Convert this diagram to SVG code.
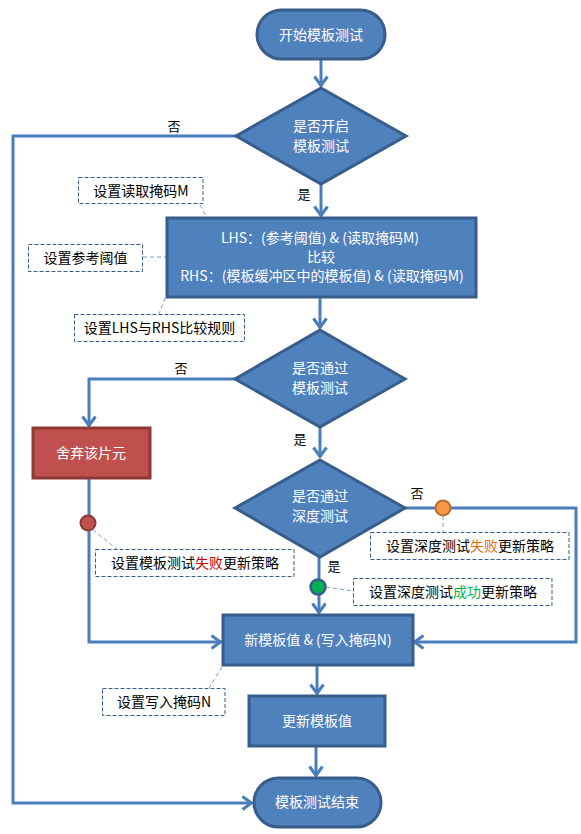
<svg xmlns="http://www.w3.org/2000/svg" width="581" height="834" viewBox="0 0 581 834">
<defs>
<marker id="arr" viewBox="0 0 12 16" refX="11" refY="8" markerWidth="12" markerHeight="16" markerUnits="userSpaceOnUse" orient="auto">
<path d="M1.5,1.5 L10.5,8 L1.5,14.5" fill="none" stroke="#4a7ebb" stroke-width="3" stroke-linejoin="miter"/>
</marker>
</defs>
<style>
text{font-family:"Noto Sans CJK SC","Liberation Sans",sans-serif;text-anchor:middle;}
.nt{fill:#ffffff;font-size:14px;}
.lb{fill:#000000;font-size:13px;}
.ntxt{fill:#000000;font-size:14px;}
.node{fill:#4f81bd;stroke:#385d8a;stroke-width:3;}
.red{fill:#c0504d;stroke:#8c3836;stroke-width:3;}
.note{fill:#ffffff;stroke:#385d8a;stroke-width:1;stroke-dasharray:4 2;}
.con{fill:none;stroke:#4a7ebb;stroke-width:3;}
.arr{marker-end:url(#arr);}
.call{fill:none;stroke:#7ba0d4;stroke-width:1;stroke-dasharray:4 3;}
</style>
<rect width="581" height="834" fill="#ffffff"/>
<g id="connectors">
<path class="con arr" d="M321,59 L321,86"/>
<path class="con arr" d="M236,136 L13,136 L13,803 L252,803"/>
<path class="con arr" d="M321,184 L321,216"/>
<path class="con arr" d="M320,297 L320,328"/>
<path class="con arr" d="M235,379 L89,379 L89,426"/>
<path class="con arr" d="M89,478 L89,642 L221,642"/>
<path class="con arr" d="M320,427 L320,457"/>
<path class="con arr" d="M405,508 L576,508 L576,642 L414,642"/>
<path class="con arr" d="M319,557 L319,613"/>
<path class="con arr" d="M317,665 L317,694"/>
<path class="con arr" d="M316,746 L316,776"/>
<text class="lb" x="174" y="131">否</text>
<text class="lb" x="304" y="199">是</text>
<text class="lb" x="181" y="373">否</text>
<text class="lb" x="300" y="444">是</text>
<text class="lb" x="417" y="498">否</text>
<text class="lb" x="334" y="571">是</text>
<path class="call" d="M200,205 L207,218"/>
<path class="call" d="M143,257 L193,257"/>
<path class="call" d="M165,298 L159,314"/>
<path class="call" d="M93,530 L117,549"/>
<path class="call" d="M443,516 L443,532"/>
<path class="call" d="M326,587 L353,591"/>
<path class="call" d="M222,667 L209,688"/>
</g>
<g id="start">
<rect class="node" x="257" y="10" width="128" height="49" rx="24.5"/>
<text class="nt" x="321" y="40">开始模板测试</text>
</g>
<g id="decision1">
<polygon class="node" points="321,88 406,136 321,184 236,136"/>
<text class="nt" x="321" y="131">是否开启</text>
<text class="nt" x="321" y="151">模板测试</text>
</g>
<g id="compare">
<rect class="node" x="167" y="218" width="309" height="79"/>
<text class="nt" x="320" y="243">LHS：(参考阈值) &amp; (读取掩码M)</text>
<text class="nt" x="321" y="262">比较</text>
<text class="nt" x="322" y="281">RHS：(模板缓冲区中的模板值) &amp; (读取掩码M)</text>
</g>
<g id="decision2">
<polygon class="node" points="320,330 405,379 320,427 235,379"/>
<text class="nt" x="320" y="373">是否通过</text>
<text class="nt" x="320" y="393">模板测试</text>
</g>
<g id="discard">
<rect class="red" x="33" y="428" width="117" height="50"/>
<text class="nt" x="91" y="458">舍弃该片元</text>
</g>
<g id="decision3">
<polygon class="node" points="320,460 405,508 320,557 235,508"/>
<text class="nt" x="320" y="501">是否通过</text>
<text class="nt" x="320" y="521">深度测试</text>
</g>
<g id="newvalue">
<rect class="node" x="223" y="615" width="190" height="50"/>
<text class="nt" x="318" y="645">新模板值 &amp; (写入掩码N)</text>
</g>
<g id="update">
<rect class="node" x="249" y="696" width="136" height="50"/>
<text class="nt" x="317" y="726">更新模板值</text>
</g>
<g id="end">
<rect class="node" x="254" y="778" width="127" height="49" rx="24.5"/>
<text class="nt" x="317" y="807">模板测试结束</text>
</g>
<g id="dot-red">
<circle cx="88" cy="523" r="7.5" fill="#c0504d" stroke="#8c3836" stroke-width="2"/>
</g>
<g id="dot-orange">
<circle cx="443" cy="508" r="7.5" fill="#f79646" stroke="#b66d31" stroke-width="2"/>
</g>
<g id="dot-green">
<circle cx="318" cy="587" r="7.5" fill="#00b050" stroke="#385d8a" stroke-width="2.5"/>
</g>
<g id="note-readmask">
<rect class="note" x="78.5" y="177.5" width="124.5" height="26"/>
<text class="ntxt" x="141" y="195.5">设置读取掩码M</text>
</g>
<g id="note-ref">
<rect class="note" x="28.5" y="244.5" width="114" height="27"/>
<text class="ntxt" x="85.5" y="263">设置参考阈值</text>
</g>
<g id="note-rule">
<rect class="note" x="74.5" y="314.5" width="170" height="27"/>
<text class="ntxt" x="159.5" y="333">设置LHS与RHS比较规则</text>
</g>
<g id="note-stencilfail">
<rect class="note" x="95.5" y="549.5" width="198.5" height="27"/>
<text class="ntxt" x="195" y="568">设置模板测试<tspan fill="#c00000">失败</tspan>更新策略</text>
</g>
<g id="note-depthfail">
<rect class="note" x="370.5" y="532.5" width="198.5" height="27"/>
<text class="ntxt" x="470" y="551">设置深度测试<tspan fill="#e46c0a">失败</tspan>更新策略</text>
</g>
<g id="note-depthpass">
<rect class="note" x="353.5" y="578.5" width="198.5" height="27"/>
<text class="ntxt" x="453" y="597">设置深度测试<tspan fill="#00b050">成功</tspan>更新策略</text>
</g>
<g id="note-writemask">
<rect class="note" x="102.5" y="688.5" width="122.5" height="27"/>
<text class="ntxt" x="164" y="707">设置写入掩码N</text>
</g>
</svg>
